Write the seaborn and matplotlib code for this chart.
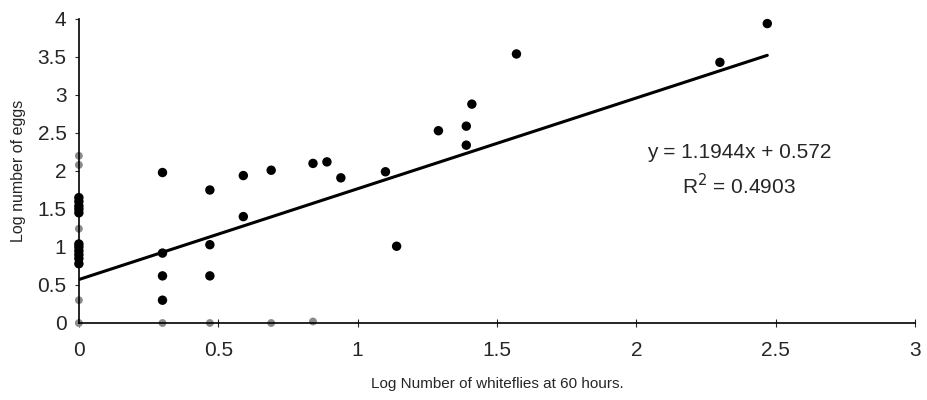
import numpy as np
import pandas as pd
import matplotlib
matplotlib.use("Agg")
import matplotlib.pyplot as plt
from matplotlib.ticker import FuncFormatter
import seaborn as sns

# log whiteflies (x) vs log eggs (y)
log_whiteflies = [0, 0, 0, 0, 0, 0, 0, 0, 0, 0, 0,
                  0.30, 0.30, 0.30, 0.30, 0.47, 0.47, 0.47, 0.59, 0.59,
                  0.69, 0.84, 0.89, 0.94, 1.10, 1.14, 1.29, 1.39, 1.39,
                  1.41, 1.57, 2.30, 2.47]
log_eggs = [1.45, 1.50, 1.54, 1.60, 1.65, 0.78, 0.85, 0.90, 0.95, 1.00, 1.04,
            1.98, 0.92, 0.62, 0.30, 1.75, 1.03, 0.62, 1.94, 1.40,
            2.01, 2.10, 2.12, 1.91, 1.99, 1.01, 2.53, 2.59, 2.34,
            2.88, 3.54, 3.43, 3.94]

# faint points sitting on the axes
faint_x = [0, 0, 0, 0, 0, 0.30, 0.47, 0.69, 0.84]
faint_y = [2.20, 2.08, 1.24, 0.30, 0.0, 0.0, 0.0, 0.0, 0.02]

slope = 1.1944
intercept = 0.572
r_squared = 0.4903

sns.set_style("ticks")
plt.rcParams["font.family"] = ["Liberation Sans", "DejaVu Sans"]

fig = plt.figure(figsize=(9.28, 4.0), dpi=100)
ax = fig.add_axes([0.085, 0.1925, 0.901, 0.76])

df = pd.DataFrame({"x": log_whiteflies, "y": log_eggs})
faint = pd.DataFrame({"x": faint_x, "y": faint_y})

sns.scatterplot(data=faint, x="x", y="y", ax=ax, color="#8a8a8a", s=32,
                edgecolor="none", clip_on=False, zorder=2)
sns.scatterplot(data=df, x="x", y="y", ax=ax, color="black", s=46,
                edgecolor="none", clip_on=False, zorder=3)

x_line = np.array([0, max(log_whiteflies)])
ax.plot(x_line, slope * x_line + intercept, color="black", lw=2.2, zorder=4)

ax.text(2.37, 2.25, f"y = {slope}x + {intercept}", ha="center", va="center",
        fontsize=15)
ax.text(2.37, 1.81, f"R$^2$ = {r_squared}", ha="center", va="center",
        fontsize=15)

ax.set_xlim(0, 3)
ax.set_ylim(0, 4)
ax.set_xticks(np.arange(0, 3.01, 0.5))
ax.set_yticks(np.arange(0, 4.01, 0.5))
fmt = FuncFormatter(lambda v, p: f"{v:g}")
ax.xaxis.set_major_formatter(fmt)
ax.yaxis.set_major_formatter(fmt)
ax.tick_params(axis="x", direction="inout", length=6, width=0.8, pad=10,
               labelsize=15)
ax.tick_params(axis="y", direction="out", length=3, width=0.8, pad=6,
               labelsize=15)

sns.despine(ax=ax)
for side in ["left", "bottom"]:
    ax.spines[side].set_color("black")
    ax.spines[side].set_linewidth(1.2)

ax.set_xlabel("Log Number of whiteflies at 60 hours.", fontsize=11, labelpad=12)
ax.set_ylabel("Log number of eggs", fontsize=11.5, labelpad=8)

fig.savefig("out.png", dpi=100, facecolor="white")
